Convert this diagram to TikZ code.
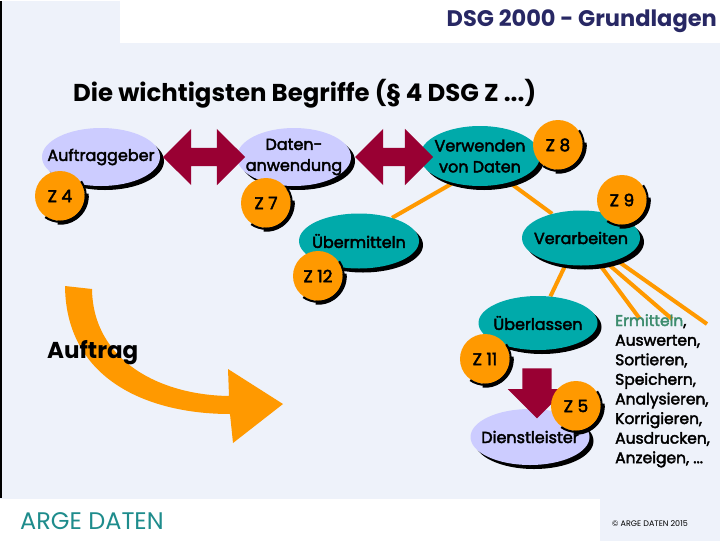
\documentclass[tikz,border=0pt]{standalone}
\usepackage{fontspec}
\setmainfont{Poppins}
\newfontfamily\dickfont{Poppins}[FakeBold=2.5]
\usetikzlibrary{shapes, shapes.arrows, calc}
\definecolor{grundfarbe}{RGB}{238,242,250}
\definecolor{lila}{RGB}{204,204,255}
\definecolor{petrol}{RGB}{0,170,170}
\definecolor{orangeg}{RGB}{255,153,0}
\definecolor{weinrot}{RGB}{153,0,51}
\definecolor{titelblau}{RGB}{40,40,100}
\definecolor{argeteal}{RGB}{30,140,140}
\definecolor{gruen}{RGB}{60,140,110}
\pgfdeclarelayer{grund}
\pgfdeclarelayer{hinten}
\pgfsetlayers{grund,hinten,main}
\tikzset{
  begriff/.style={ellipse, inner xsep=-25pt, inner ysep=-6pt, align=center, font=\dickfont\fontsize{16}{21}\selectfont},
  lilabg/.style={begriff, fill=lila},
  petrolbg/.style={begriff, fill=petrol},
  ziffer/.style={circle, fill=orangeg, minimum size=50pt, inner sep=0pt, font=\dickfont\fontsize{17}{17}\selectfont},
  zrand/.style={black, line width=4pt},
  zrandduenn/.style={black, line width=2pt},
  doppelpfeil/.style={double arrow, fill=weinrot, inner sep=0pt, inner ysep=9pt, double arrow head extend=19pt},
  ast/.style={orangeg, line width=4pt}
}

\begin{document}
\begin{tikzpicture}[x=1pt, y=-1pt]

  \begin{pgfonlayer}{grund}
    \fill [grundfarbe] (0,0) rectangle (720,540);
    \fill [white] (120,0) rectangle (720,42);
    \fill [white] (0,498) rectangle (600,540);
    \draw [black, line width=2pt] (1,0) -- (1,497);
  \end{pgfonlayer}

  % titel
  \node [titelblau, anchor=east, inner sep=0pt, font=\bfseries\fontsize{22.5}{22.5}\selectfont] (titel) at (717,20) {DSG 2000 - Grundlagen};
  \node [anchor=west, inner sep=0pt, font=\bfseries\fontsize{24.4}{24.4}\selectfont] (ueberschrift) at (73,93) {Die wichtigsten Begriffe (§ 4 DSG Z ...)};

  % schatten
  \fill [black] (105,160) ellipse [x radius=59, y radius=29];
  \fill [black] (298,160) ellipse [x radius=57, y radius=29];
  \fill [black] (484,159) ellipse [x radius=60, y radius=30];
  \fill [black] (363,244) ellipse [x radius=60, y radius=27.5];
  \fill [black] (585,241) ellipse [x radius=59, y radius=27.5];
  \fill [black] (542,326) ellipse [x radius=59.5, y radius=27];
  \fill [black] (534,440) ellipse [x radius=59.5, y radius=28];

  % begriffe
  \node [lilabg, minimum width=118pt, minimum height=58pt] (ag) at (101,156) {Auftraggeber};
  \node [lilabg, minimum width=114pt, minimum height=58pt] (da) at (294,156) {Daten-\\anwendung};
  \node [petrolbg, minimum width=120pt, minimum height=60pt] (vd) at (480,155) {Verwenden\\von Daten};
  \node [petrolbg, minimum width=120pt, minimum height=55pt] (um) at (359,240) {Übermitteln};
  \node [petrolbg, minimum width=118pt, minimum height=55pt] (va) at (581,237) {Verarbeiten};
  \node [petrolbg, minimum width=119pt, minimum height=54pt] (ul) at (538,322) {Überlassen};
  \node [lilabg, minimum width=119pt, minimum height=56pt] (dl) at (530,436) {Dienstleister};

  % verbindungen
  \begin{pgfonlayer}{hinten}
    \draw [ast] (vd.225) -- (um.35);
    \draw [ast] (vd.318) -- (va.140);
    \draw [ast] (va.240) -- (ul.65);
    \coordinate (e1) at (640,318);
    \coordinate (e2) at (672,318);
    \coordinate (e3) at (707,323);
    \draw [ast] (va.305) -- (e1);
    \draw [ast] (va.316) -- (e2);
    \draw [ast] (va.328) -- (e3);
  \end{pgfonlayer}

  \node [doppelpfeil, minimum height=82pt] (pf1) at (204,156) {};
  \node [doppelpfeil, minimum height=78pt] (pf2) at (394,156) {};
  \node [single arrow, fill=weinrot, inner sep=0pt, inner ysep=14.5pt, single arrow head extend=14.5pt, minimum height=50pt, rotate=-90] (pf3) at (537,385) {};

  % ziffern
  \node [ziffer] (z4) at (60,195) {Z 4};
  \node [ziffer] (z7) at (266,202) {Z 7};
  \node [ziffer] (z8) at (558,144) {Z 8};
  \node [ziffer] (z9) at (622,199) {Z 9};
  \node [ziffer] (z12) at (318,275) {Z 12};
  \node [ziffer] (z11) at (485,358) {Z 11};
  \node [ziffer] (z5) at (576,405) {Z 5};
  \foreach \z in {z4,z7,z8,z9,z12,z11,z5} {
    \draw [zrandduenn] (\z.center) ++(-35:25.8) arc [start angle=-35, end angle=125, radius=25.8];
    \draw [zrand] (\z.center) ++(-5:26.8) arc [start angle=-5, end angle=95, radius=26.8];
  }

  % auftrag
  \fill [orangeg] (65,285) .. controls (66,380) and (150,413) .. (230,413) -- (233,442) -- (283,403) -- (228,368) -- (229,395) .. controls (160,394) and (93,360) .. (92,288) -- cycle;
  \node [anchor=west, inner sep=0pt, font=\bfseries\fontsize{23}{23}\selectfont] (auftrag) at (47,352) {Auftrag};

  % taetigkeiten
  \node [anchor=north west, inner sep=0pt, align=left, font=\dickfont\fontsize{15.5}{19.6}\selectfont] (liste) at (615,313) {\textcolor{gruen}{Ermitteln},\\Auswerten,\\Sortieren,\\Speichern,\\Analysieren,\\Korrigieren,\\Ausdrucken,\\Anzeigen, ...};

  % fuss
  \node [argeteal, anchor=west, inner sep=0pt, font=\fontsize{24}{24}\selectfont] (arge) at (20,520) {ARGE DATEN};
  \node [anchor=west, inner sep=0pt, font=\fontsize{8}{8}\selectfont] (copy) at (612,523) {© ARGE DATEN 2015};

\end{tikzpicture}
\end{document}
